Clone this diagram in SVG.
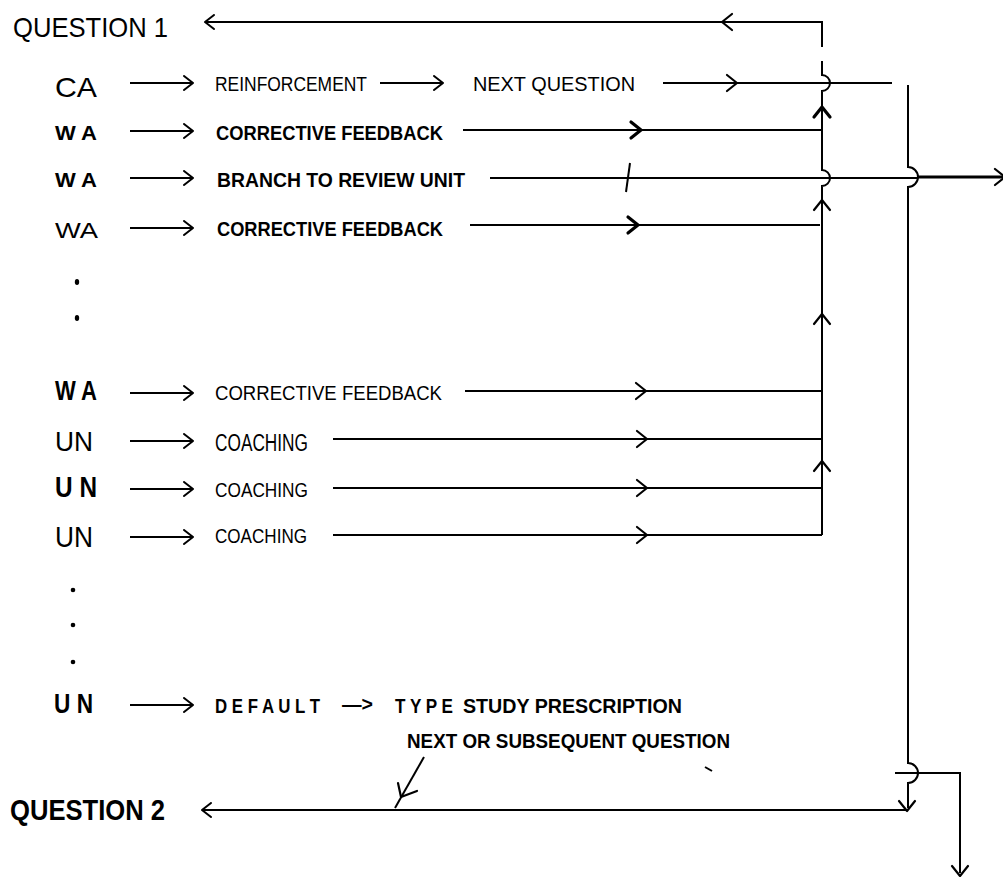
<svg xmlns="http://www.w3.org/2000/svg" xmlns:xlink="http://www.w3.org/1999/xlink" width="1003" height="877" viewBox="0 0 1003 877">
<style>
.ln{stroke:#000;stroke-width:2;fill:none}
.bl{stroke:#000;stroke-width:3;fill:none}
.hd{stroke:#000;stroke-width:2.2;fill:none;stroke-linecap:round;stroke-linejoin:round}
.hb{stroke:#000;stroke-width:3.2;fill:none;stroke-linecap:round;stroke-linejoin:round}
.t{font-family:"Liberation Sans",Arial,sans-serif;fill:#000}
.lt{font-weight:normal}
.bd{font-weight:bold}
.dot{fill:#000}
</style>
<defs>
<marker id="ah" viewBox="0 0 12 16" refX="10" refY="8" markerWidth="12" markerHeight="16" orient="auto" markerUnits="userSpaceOnUse">
<path d="M1,1 L10,8 L1,15" fill="none" stroke="#000" stroke-width="2" stroke-linecap="round" stroke-linejoin="round"/>
</marker>
<path id="chev" d="M-5,-8 L5,0 L-5,8"/>
</defs>

<rect width="1003" height="877" fill="#fff"/>

<g id="connectors">
<!-- left arrows -->
<path class="ln" d="M130,83 H193" marker-end="url(#ah)"/>
<path class="ln" d="M380,83 H443" marker-end="url(#ah)"/>
<path class="ln" d="M130,131 H193" marker-end="url(#ah)"/>
<path class="ln" d="M130,178 H193" marker-end="url(#ah)"/>
<path class="ln" d="M130,228 H193" marker-end="url(#ah)"/>
<path class="ln" d="M130,393 H193" marker-end="url(#ah)"/>
<path class="ln" d="M130,441 H193" marker-end="url(#ah)"/>
<path class="ln" d="M130,489 H193" marker-end="url(#ah)"/>
<path class="ln" d="M130,537 H193" marker-end="url(#ah)"/>
<path class="ln" d="M130,705 H193" marker-end="url(#ah)"/>

<!-- row lines -->
<path class="ln" d="M663,83 H892"/>
<use xlink:href="#chev" class="hd" transform="translate(732,83)"/>
<path class="ln" d="M463,130 H822"/>
<use xlink:href="#chev" class="hb" transform="translate(636,130)"/>
<path class="ln" d="M490,178 H918"/>
<path class="bl" d="M918,177 H1003"/>
<use xlink:href="#chev" class="hd" transform="translate(1000,177)"/>
<path class="ln" d="M630,163 L626,192"/>
<path class="ln" d="M470,225 H820"/>
<use xlink:href="#chev" class="hb" transform="translate(633,225)"/>
<path class="ln" d="M465,391 H822"/>
<use xlink:href="#chev" class="hd" transform="translate(641,391)"/>
<path class="ln" d="M333,439 H822"/>
<use xlink:href="#chev" class="hd" transform="translate(642,439)"/>
<path class="ln" d="M333,488 H822"/>
<use xlink:href="#chev" class="hd" transform="translate(642,488)"/>
<path class="ln" d="M333,535 H822"/>
<use xlink:href="#chev" class="hd" transform="translate(642,535)"/>

<!-- return to question 1 -->
<path class="ln" d="M822,47 V22 H205" marker-end="url(#ah)"/>
<use xlink:href="#chev" class="hd" transform="translate(727,22) rotate(180)"/>

<!-- main collector vertical -->
<path class="ln" d="M822,61 V75 A8,8 0 0 1 822,91 V170 A8,8 0 0 1 822,186 V535"/>
<use xlink:href="#chev" class="hb" transform="translate(822,112) rotate(-90)"/>
<use xlink:href="#chev" class="hd" transform="translate(822,205) rotate(-90)"/>
<use xlink:href="#chev" class="hd" transform="translate(822,319) rotate(-90)"/>
<use xlink:href="#chev" class="hd" transform="translate(822,466) rotate(-90)"/>

<!-- right vertical -->
<path class="ln" d="M908,85 V167 A10,10 0 0 1 908,187 V763 A10,10 0 0 1 908,783 V808"/>
<use xlink:href="#chev" class="hd" transform="translate(907,806) rotate(90)"/>
<path class="ln" d="M895,773 H960 V873"/>
<use xlink:href="#chev" class="hd" transform="translate(960,871) rotate(90)"/>

<!-- to question 2 -->
<path class="ln" d="M907,810 H202" marker-end="url(#ah)"/>
<path class="ln" d="M424,757 L395,808"/>
<path class="hd" d="M398,783 L401,797 L417,791"/>
<path class="ln" d="M705,767 L712,771"/>
</g>

<g id="question1"><text class="t lt" x="13" y="37" font-size="28" textLength="155" lengthAdjust="spacingAndGlyphs">QUESTION 1</text></g>

<g id="row-ca">
<text class="t lt" x="55" y="97" font-size="28" textLength="42" lengthAdjust="spacingAndGlyphs">CA</text>
<text class="t lt" x="215" y="91" font-size="20" textLength="152" lengthAdjust="spacingAndGlyphs">REINFORCEMENT</text>
<text class="t lt" x="473" y="91" font-size="20" textLength="162" lengthAdjust="spacingAndGlyphs">NEXT QUESTION</text>
</g>

<g id="row-wa1">
<text class="t bd" x="55" y="140" font-size="21" textLength="42" lengthAdjust="spacingAndGlyphs">W A</text>
<text class="t bd" x="216" y="140" font-size="20" textLength="227" lengthAdjust="spacingAndGlyphs">CORRECTIVE FEEDBACK</text>
</g>

<g id="row-wa2">
<text class="t bd" x="55" y="187" font-size="21" textLength="42" lengthAdjust="spacingAndGlyphs">W A</text>
<text class="t bd" x="217" y="187" font-size="21" textLength="248" lengthAdjust="spacingAndGlyphs">BRANCH TO REVIEW UNIT</text>
</g>

<g id="row-wa3">
<text class="t lt" x="55" y="238" font-size="22" textLength="43" lengthAdjust="spacingAndGlyphs">WA</text>
<text class="t bd" x="217" y="236" font-size="20" textLength="226" lengthAdjust="spacingAndGlyphs">CORRECTIVE FEEDBACK</text>
</g>

<g id="dots1">
<ellipse class="dot" cx="77" cy="282" rx="2.2" ry="3"/>
<ellipse class="dot" cx="77" cy="318" rx="2.2" ry="3"/>
</g>

<g id="row-wa4">
<text class="t bd" x="55" y="400" font-size="28" textLength="42" lengthAdjust="spacingAndGlyphs">W A</text>
<text class="t lt" x="215" y="400" font-size="20" textLength="227" lengthAdjust="spacingAndGlyphs">CORRECTIVE FEEDBACK</text>
</g>

<g id="row-un1">
<text class="t lt" x="55" y="451" font-size="28" textLength="38" lengthAdjust="spacingAndGlyphs">UN</text>
<text class="t lt" x="215" y="451" font-size="23" textLength="93" lengthAdjust="spacingAndGlyphs">COACHING</text>
</g>

<g id="row-un2">
<text class="t bd" x="55" y="497" font-size="30" textLength="42" lengthAdjust="spacingAndGlyphs">U N</text>
<text class="t lt" x="215" y="497" font-size="21" textLength="93" lengthAdjust="spacingAndGlyphs">COACHING</text>
</g>

<g id="row-un3">
<text class="t lt" x="55" y="547" font-size="30" textLength="38" lengthAdjust="spacingAndGlyphs">UN</text>
<text class="t lt" x="215" y="543" font-size="21" textLength="92" lengthAdjust="spacingAndGlyphs">COACHING</text>
</g>

<g id="dots2">
<circle class="dot" cx="73" cy="590" r="2.3"/>
<circle class="dot" cx="73" cy="625" r="2.3"/>
<circle class="dot" cx="73" cy="662" r="2.3"/>
</g>

<g id="row-default">
<text class="t bd" x="54" y="713" font-size="27" textLength="39" lengthAdjust="spacingAndGlyphs">U N</text>
<text class="t bd" x="215" y="713" font-size="20" textLength="105" lengthAdjust="spacingAndGlyphs">D E F A U L T</text>
<text class="t bd" x="342" y="711" font-size="20" textLength="31" lengthAdjust="spacingAndGlyphs">—&gt;</text>
<text class="t bd" x="395" y="713" font-size="20" textLength="58" lengthAdjust="spacingAndGlyphs">T Y P E</text>
<text class="t bd" x="463" y="713" font-size="20" textLength="219" lengthAdjust="spacingAndGlyphs">STUDY  PRESCRIPTION</text>
<text class="t bd" x="407" y="748" font-size="20" textLength="323" lengthAdjust="spacingAndGlyphs">NEXT OR SUBSEQUENT QUESTION</text>
</g>

<g id="question2"><text class="t bd" x="10" y="820" font-size="30" textLength="155" lengthAdjust="spacingAndGlyphs">QUESTION  2</text></g>
</svg>
